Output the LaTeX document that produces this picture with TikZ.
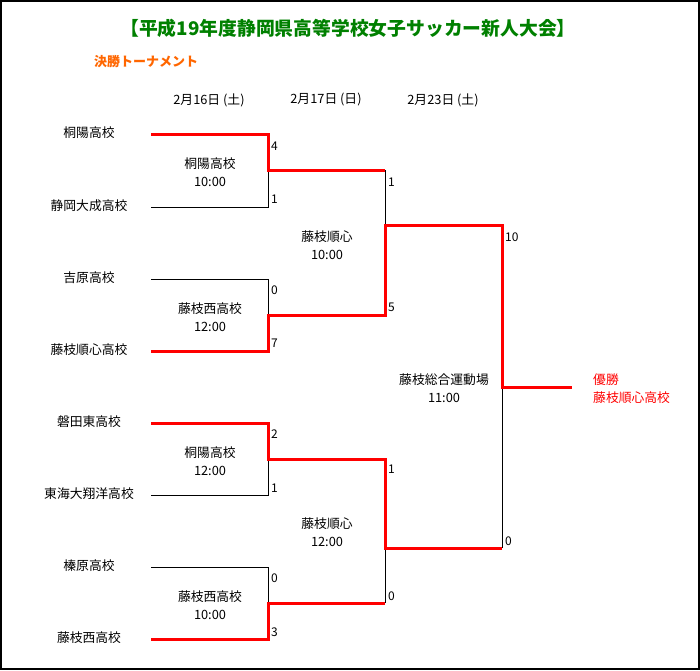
\documentclass[tikz,border=0pt]{standalone}
\usepackage{fontspec}
\setmainfont{Noto Sans CJK JP}
\usepackage{tikz}
\usetikzlibrary{positioning}
\definecolor{titlegreen}{RGB}{0,128,0}
\definecolor{headorange}{RGB}{255,102,0}
\definecolor{winnerred}{RGB}{255,0,0}

\begin{document}
\begin{tikzpicture}[x=1pt, y=-1pt,
    every node/.style={inner sep=0pt, font=\fontsize{12.8}{18}\selectfont},
    venue/.style={align=center},
    score/.style={anchor=west, font=\fontsize{12}{14}\selectfont},
    lose/.style={line width=1pt, black},
    win/.style={line width=3pt, winnerred, line join=miter}]
    % Frame
    \useasboundingbox (0,0) rectangle (700,670);
    \draw[line width=2pt] (1,1) rectangle (699,669);

    % Headings
    \node[font=\fontsize{18.8}{20}\selectfont\bfseries, titlegreen] (title) at (348,28) {【平成19年度静岡県高等学校女子サッカー新人大会】};
    \node[font=\fontsize{13}{15}\selectfont\bfseries, headorange, anchor=west] (round) at (94,62) {決勝トーナメント};
    \node (d1) at (209,100) {2月16日 (土)};
    \node (d2) at (326,100) {2月17日 (日)};
    \node (d3) at (443,100) {2月23日 (土)};

    % Teams
    \foreach \name/\y [count=\i] in {桐陽高校/134, 静岡大成高校/207, 吉原高校/279, 藤枝順心高校/351,
        磐田東高校/423, 東海大翔洋高校/495, 榛原高校/567, 藤枝西高校/639} {
        \coordinate (e\i) at (151,\y);
        \coordinate (j\i) at (268,\y);
        \node (team\i) at (89,\y-1) {\name};
    }

    % Junctions
    \foreach \y [count=\i] in {170,315,459,603} {
        \coordinate (m\i) at (268,\y);
        \coordinate (n\i) at (385,\y);
    }
    \coordinate (s1) at (385,225);
    \coordinate (s2) at (385,548);
    \coordinate (f1) at (502,225);
    \coordinate (f2) at (502,548);
    \coordinate (c) at (502,387);
    \coordinate (champ) at (572,387);

    % Losers
    \draw[lose] (e2) -- (j2) -- (m1);
    \draw[lose] (e3) -- (j3) -- (m2);
    \draw[lose] (e6) -- (j6) -- (m3);
    \draw[lose] (e7) -- (j7) -- (m4);
    \draw[lose] (n1) -- (s1);
    \draw[lose] (n4) -- (s2);
    \draw[lose] (f2) -- (c);

    % Winners
    \draw[win] (e1) -- (j1) -- (m1) -- (n1);
    \draw[win] (e4) -- (j4) -- (m2) -- (n2) -- (s1) -- (f1) -- (c) -- (champ);
    \draw[win] (e5) -- (j5) -- (m3) -- (n3) -- (s2) -- (f2);
    \draw[win] (e8) -- (j8) -- (m4) -- (n4);

    % Scores
    \foreach \x/\y/\s [count=\i] in {271/146/4, 271/199/1, 271/290/0, 271/343/7,
        271/434/2, 271/488/1, 271/578/0, 271/632/3,
        388/182/1, 388/307/5, 388/469/1, 388/596/0, 505/237/10, 505/541/0} {
        \node[score] (sc\i) at (\x,\y) {\s};
    }

    % Venues
    \node[venue] (v1) at (210,172) {桐陽高校\\10:00};
    \node[venue] (v2) at (210,317) {藤枝西高校\\12:00};
    \node[venue] (v3) at (210,461) {桐陽高校\\12:00};
    \node[venue] (v4) at (210,605) {藤枝西高校\\10:00};
    \node[venue] (v5) at (327,245) {藤枝順心\\10:00};
    \node[venue] (v6) at (327,532) {藤枝順心\\12:00};
    \node[venue] (v7) at (444,388) {藤枝総合運動場\\11:00};

    % Champion
    \node[winnerred, align=left, anchor=west] (winner) at (593,389) {優勝\\藤枝順心高校};
\end{tikzpicture}
\end{document}
